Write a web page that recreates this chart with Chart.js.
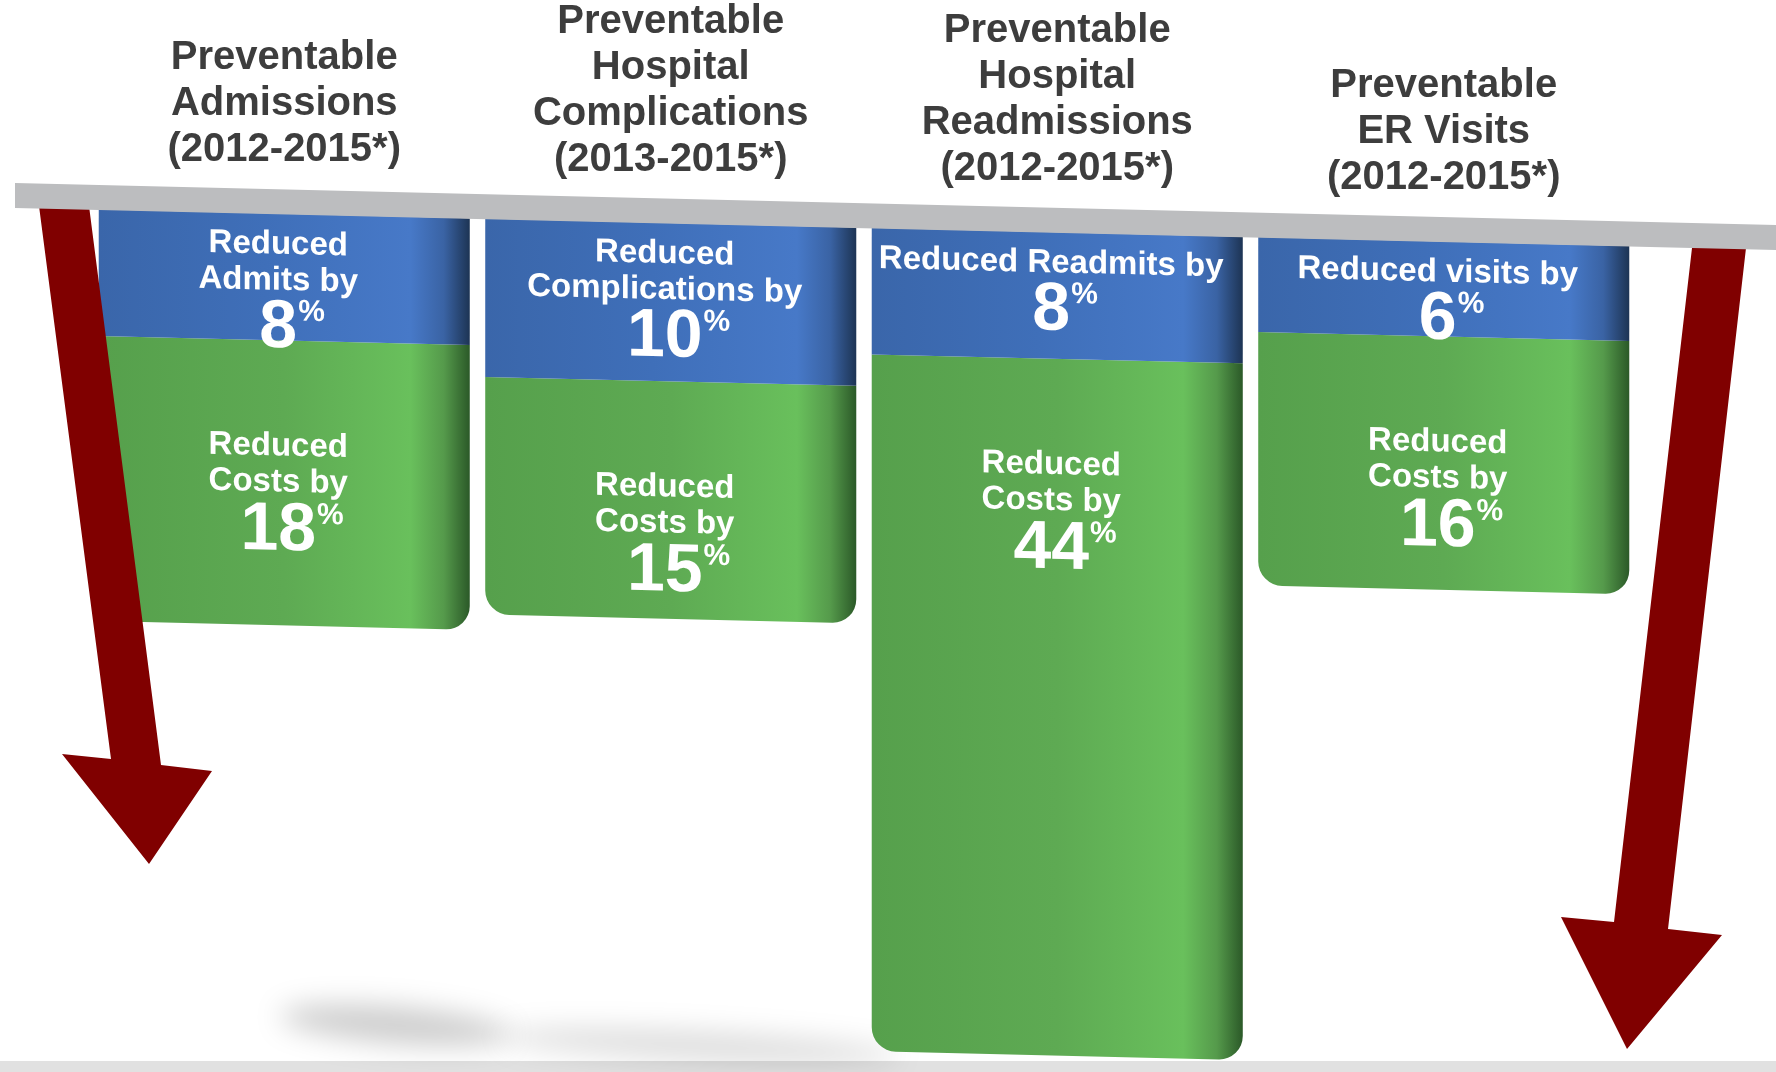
<!DOCTYPE html>
<html>
<head>
<meta charset="utf-8">
<title>Preventable utilization and cost reductions</title>
<script src="https://cdn.jsdelivr.net/npm/chart.js@4.4.1/dist/chart.umd.min.js"></script>
<style>
  html, body { margin: 0; padding: 0; background: #ffffff; }
  canvas { display: block; }
</style>
</head>
<body>
<canvas id="chart" width="1776" height="1072"></canvas>
<script>
// ---- data ----
const categories = [
  ["Preventable", "Admissions", "(2012-2015*)"],
  ["Preventable", "Hospital", "Complications", "(2013-2015*)"],
  ["Preventable", "Hospital", "Readmissions", "(2012-2015*)"],
  ["Preventable", "ER Visits", "(2012-2015*)"]
];
const utilizationReduction = [8, 10, 8, 6];     // % fewer admits / complications / readmits / visits
const costReduction = [18, 15, 44, 16];         // % lower costs
const utilizationCaptions = [
  ["Reduced", "Admits by"],
  ["Reduced", "Complications by"],
  ["Reduced Readmits by"],
  ["Reduced visits by"]
];
const costCaptions = ["Reduced", "Costs by"];

// ---- styling ----
const FONT = '"Liberation Sans", Arial, Helvetica, sans-serif';
const CAPTION_FONT = `bold 33px ${FONT}`;
const SLOPE = 0.0239;            // tilt of the shelf the bars hang from
const SHELF_X0 = 15, SHELF_TOP0 = 183, SHELF_THICK = 25;
const BAR_FRACTION = 0.96;
const BLUE_STOPS = [[0, '#3a66aa'], [0.45, '#3f6fb9'], [0.84, '#4779c8'], [0.93, '#3a63a4'], [1, '#1d3454']];
const GREEN_STOPS = [[0, '#56a04c'], [0.5, '#5eaa53'], [0.84, '#69c05c'], [0.93, '#559a4b'], [1, '#2b5928']];

const shelfTopAt = x => SHELF_TOP0 + SLOPE * (x - SHELF_X0);

function faceGradient(chart, index, stops) {
  const xs = chart.scales.x;
  const cx = xs ? xs.getPixelForValue(index) : NaN;
  if (!isFinite(cx)) return stops[1][1];
  const half = xs.width / categories.length * BAR_FRACTION / 2;
  const g = chart.ctx.createLinearGradient(cx - half, 0, cx + half, 0);
  stops.forEach(([o, c]) => g.addColorStop(o, c));
  return g;
}

function drawPercent(ctx, value, cx, cy) {
  const big = 68, small = 30;
  ctx.textAlign = 'left';
  ctx.textBaseline = 'alphabetic';
  ctx.font = `bold ${big}px ${FONT}`;
  const digits = String(value);
  const w = ctx.measureText(digits).width;
  const baseline = cy + big * 0.36;
  ctx.fillText(digits, cx - w / 2, baseline);
  ctx.font = `bold ${small}px ${FONT}`;
  ctx.fillText('%', cx + w / 2 + 1, baseline - big * 0.716 + small * 0.72);
}

function drawCaption(ctx, lines, cx, y0) {
  let y = y0;
  lines.forEach((line, j) => {
    if (j) y += 36;
    ctx.font = CAPTION_FONT;
    ctx.textAlign = 'center';
    ctx.textBaseline = 'middle';
    ctx.fillText(line, cx, y);
  });
  return y;
}

function polygon(ctx, pts, color) {
  ctx.beginPath();
  pts.forEach(([x, y], i) => i ? ctx.lineTo(x, y) : ctx.moveTo(x, y));
  ctx.closePath();
  ctx.fillStyle = color;
  ctx.fill();
}

const scenery = {
  id: 'scenery',
  beforeDraw(chart) {
    const ctx = chart.ctx;
    ctx.save();
    ctx.fillStyle = '#ffffff';
    ctx.fillRect(0, 0, chart.width, chart.height);
    // floor band
    ctx.fillStyle = '#e1e1e1';
    ctx.fillRect(0, 1061, chart.width, chart.height - 1061);
    // soft shadows on the floor
    ctx.filter = 'blur(14px)';
    ctx.fillStyle = 'rgba(0,0,0,0.20)';
    ctx.beginPath(); ctx.ellipse(395, 1025, 115, 18, 0.08, 0, Math.PI * 2); ctx.fill();
    ctx.fillStyle = 'rgba(0,0,0,0.14)';
    ctx.beginPath(); ctx.ellipse(700, 1046, 200, 14, 0.05, 0, Math.PI * 2); ctx.fill();
    ctx.restore();
  },
  beforeDatasetsDraw(chart) {
    chart.ctx.save();
    chart.ctx.transform(1, SLOPE, 0, 1, 0, 0);
  },
  afterDatasetsDraw(chart) {
    const ctx = chart.ctx;
    const blue = chart.getDatasetMeta(0).data;
    const green = chart.getDatasetMeta(1).data;
    ctx.fillStyle = '#ffffff';
    blue.forEach((bar, i) => {
      const cx = bar.x - 6;
      const lastBlue = drawCaption(ctx, utilizationCaptions[i], cx, bar.base + 31);
      drawPercent(ctx, utilizationReduction[i], cx, lastBlue + 42);

      const g = green[i];
      const lastGreen = drawCaption(ctx, costCaptions, cx, g.base + 106);
      drawPercent(ctx, costReduction[i], cx, lastGreen + 43);
    });
    ctx.restore();

    // downward arrows at both ends
    ctx.save();
    polygon(ctx, [[39, 206], [89, 206], [161, 765], [212, 771], [149, 864], [62, 754], [111, 759]], '#800000');
    polygon(ctx, [[1692, 248], [1746, 248], [1668, 929], [1722, 935], [1627, 1049], [1561, 917], [1614, 922]], '#800000');
    // the shelf
    polygon(ctx, [
      [SHELF_X0, shelfTopAt(SHELF_X0)], [1776, shelfTopAt(1776)],
      [1776, shelfTopAt(1776) + SHELF_THICK], [SHELF_X0, shelfTopAt(SHELF_X0) + SHELF_THICK]
    ], '#bcbdbf');

    // category titles above the shelf
    const xs = chart.scales.x;
    ctx.fillStyle = '#3d3d3d';
    ctx.font = `bold 40px ${FONT}`;
    ctx.textAlign = 'center';
    ctx.textBaseline = 'middle';
    categories.forEach((lines, i) => {
      const x = xs.getPixelForValue(i);
      const last = shelfTopAt(x) - 39;
      lines.forEach((line, j) => {
        ctx.fillText(line, x, last - (lines.length - 1 - j) * 46);
      });
    });
    ctx.restore();
  }
};

new Chart(document.getElementById('chart'), {
  type: 'bar',
  data: {
    labels: categories,
    datasets: [
      {
        label: 'Utilization reduction',
        data: utilizationReduction,
        backgroundColor: c => faceGradient(c.chart, c.dataIndex, BLUE_STOPS),
        borderWidth: 0
      },
      {
        label: 'Cost reduction',
        data: costReduction,
        backgroundColor: c => faceGradient(c.chart, c.dataIndex, GREEN_STOPS),
        borderWidth: 0,
        borderRadius: 24
      }
    ]
  },
  options: {
    responsive: false,
    devicePixelRatio: 1,
    animation: false,
    layout: { padding: { top: 207, left: 91, right: 139, bottom: 10 } },
    datasets: { bar: { barPercentage: BAR_FRACTION, categoryPercentage: 1.0, clip: false } },
    scales: {
      x: { stacked: true, display: false },
      y: { stacked: true, display: false, reverse: true, min: 0, max: 54 }
    },
    plugins: {
      legend: { display: false },
      tooltip: { enabled: false },
      title: { display: false }
    }
  },
  plugins: [scenery]
});
</script>
</body>
</html>
